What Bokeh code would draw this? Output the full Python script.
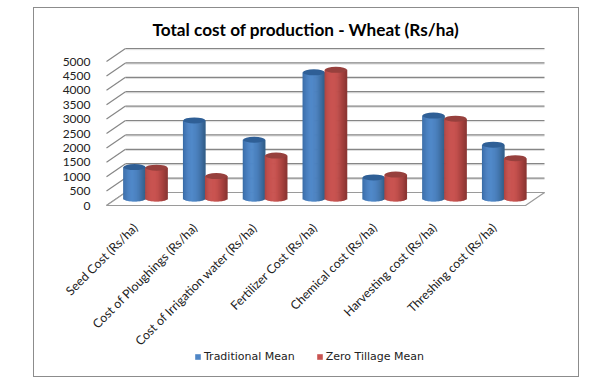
from bokeh.plotting import figure
from bokeh.models import LinearAxis, FixedTicker, Range1d, Legend, LegendItem
from bokeh.embed import file_html
from bokeh.resources import INLINE
import math

title = "Total cost of production - Wheat (Rs/ha)"
categories = ["Seed Cost (Rs/ha)", "Cost of Ploughings (Rs/ha)", "Cost of Irrigation water (Rs/ha)",
              "Fertilizer Cost (Rs/ha)", "Chemical cost (Rs/ha)", "Harvesting cost (Rs/ha)",
              "Threshing cost (Rs/ha)"]
traditional = [1090, 2710, 2040, 4380, 730, 2880, 1870]
zero_tillage = [1070, 780, 1490, 4470, 830, 2770, 1400]
ticks = [0, 500, 1000, 1500, 2000, 2500, 3000, 3500, 4000, 4500, 5000]
series_names = ["Traditional Mean", "Zero Tillage Mean"]

BLUE = ["#3b6ea8", "#4074b2", "#4478b6", "#477cbb", "#4a80c0", "#4d83c3", "#4f86c6", "#5088c8", "#5089c9", "#5088c7", "#4f86c5",
        "#4d84c2", "#4c82c0", "#4a7fbb", "#487cb7", "#4578b1", "#4274ab", "#3f6fa4", "#3b6a9c", "#376594", "#33608c"]
RED = ["#b04643", "#b84a47", "#bf4e4b", "#c3504d", "#c6524f", "#c85350", "#c95451", "#c95451", "#c95451", "#c85350", "#c6524f",
       "#c3504d", "#bf4e4b", "#b94b48", "#b44845", "#ae4542", "#a8423f", "#a23f3c", "#9b3c39", "#943936", "#8d3633"]
BLUE_TOP, RED_TOP = "#2f5f96", "#97403d"

# Pixel geometry expressed through the scales
PX_X = 59.8            # px per category
PX_Y = 144 / 5000      # px per value unit
BOX_L, BOX_T, BOX_R, BOX_B = 33, 7, 579, 377
FRAME_L, FRAME_R, FRAME_T, FRAME_B = BOX_L + 1, BOX_R - 1, 44, BOX_B - 1
ORIGIN_X, ORIGIN_Y = 145, 205
wall_l = (106 - ORIGIN_X) / PX_X
wall_r = (544 - ORIGIN_X) / PX_X
depth_x = 19 / PX_X
depth_y = 13 / PX_Y
bar_w = 22 / PX_X
base = 7 / PX_Y
cap_h = 6 / PX_Y
LABEL_SHIFT = 0.17

p = figure(frame_width=FRAME_R - FRAME_L, frame_height=FRAME_B - FRAME_T,
           output_backend="svg", toolbar_location=None,
           x_range=Range1d((FRAME_L - ORIGIN_X) / PX_X, (FRAME_R - ORIGIN_X) / PX_X),
           y_range=Range1d((ORIGIN_Y - FRAME_B) / PX_Y, (ORIGIN_Y - FRAME_T) / PX_Y),
           x_axis_location=None, y_axis_location=None,
           min_border_left=0, min_border_right=0, min_border_bottom=0,
           min_border_top=FRAME_T - BOX_T - 1,
           margin=(BOX_T, 0, 0, BOX_L),
           styles={"border": "1px solid #8c8c8c"})
p.grid.visible = False
p.outline_line_color = None
p.background_fill_color = None

# 3-D walls: gridlines
back_x0 = [wall_l + depth_x] * len(ticks)
back_x1 = [wall_r] * len(ticks)
back_y = [t + depth_y for t in ticks]
p.segment(back_x0, [y - 40 for y in back_y], back_x1, [y - 40 for y in back_y], line_color="#dcdcdc", line_width=1)
p.segment(back_x0, back_y, back_x1, back_y, line_color="#868686", line_width=1.2)
p.segment([wall_l] * len(ticks), ticks, back_x0, back_y, line_color="#868686", line_width=1.2)
# floor
p.patch([wall_l, wall_l + depth_x, wall_r, wall_r - depth_x],
        [0, depth_y, depth_y, 0], fill_color="white", line_color="#9a9a9a", line_width=1.2)

# bars as shaded cylinders
legend_renderers = []
for values, offs, shades, cap in [(traditional, -bar_w / 2, BLUE, BLUE_TOP), (zero_tillage, bar_w / 2, RED, RED_TOP)]:
    xs, bottoms, tops, cols = [], [], [], []
    cap_x, cap_y = [], []
    for i, v in enumerate(values):
        n = len(shades)
        for k, col in enumerate(shades):
            t = (k + 0.5) / n * 2 - 1
            curve = math.sqrt(max(0, 1 - t * t)) * cap_h / 2
            xs.append(i + offs + t * bar_w / 2)
            bottoms.append(base - curve)
            tops.append(base + v)
            cols.append(col)
        cap_x.append(i + offs)
        cap_y.append(base + v)
    p.vbar(x=xs, bottom=bottoms, top=tops, width=bar_w / len(shades) * 1.7, fill_color=cols, line_color=None)
    p.ellipse(x=cap_x, y=cap_y, width=bar_w, height=cap_h, fill_color=cap, line_color=None)
    legend_renderers.append(p.vbar(x=[0], bottom=[0], top=[0], width=0.001, fill_color=shades[6], line_color=None))

# axes, pinned to the chart's floor and wall
yax = LinearAxis(fixed_location=wall_l, ticker=FixedTicker(ticks=ticks), axis_line_color=None,
                 major_tick_line_color=None, minor_tick_line_color=None, major_label_standoff=10,
                 major_label_text_font="Lato", major_label_text_font_size="12px", major_label_text_color="#222222")
p.add_layout(yax, "left")
label_ticks = [round(i - LABEL_SHIFT, 2) for i in range(len(categories))]
xax = LinearAxis(fixed_location=0, ticker=FixedTicker(ticks=label_ticks),
                 major_label_overrides=dict(zip(label_ticks, categories)),
                 major_label_orientation=math.pi / 4, axis_line_color=None, major_tick_line_color=None,
                 minor_tick_line_color=None, major_label_standoff=14,
                 major_label_text_font="Lato", major_label_text_font_size="12.3px", major_label_text_color="#222222")
p.add_layout(xax, "below")

# title
p.title.text = title
p.title.text_font = "Lato"
p.title.text_font_size = "17.2px"
p.title.text_font_style = "bold"
p.title.text_color = "black"
p.title.align = "left"
p.title.offset = 152 - FRAME_L

legend = Legend(items=[LegendItem(label=n, renderers=[r]) for n, r in zip(series_names, legend_renderers)],
                orientation="horizontal", location=(194 - FRAME_L, FRAME_B - 363), background_fill_alpha=0,
                border_line_color=None,
                label_text_font="DejaVu Sans", label_text_font_size="11px", label_text_color="#222222",
                glyph_width=7, glyph_height=7, spacing=21, padding=0, margin=0, label_standoff=3)
p.add_layout(legend, "center")

open("out.html", "w").write(file_html(p, INLINE))
